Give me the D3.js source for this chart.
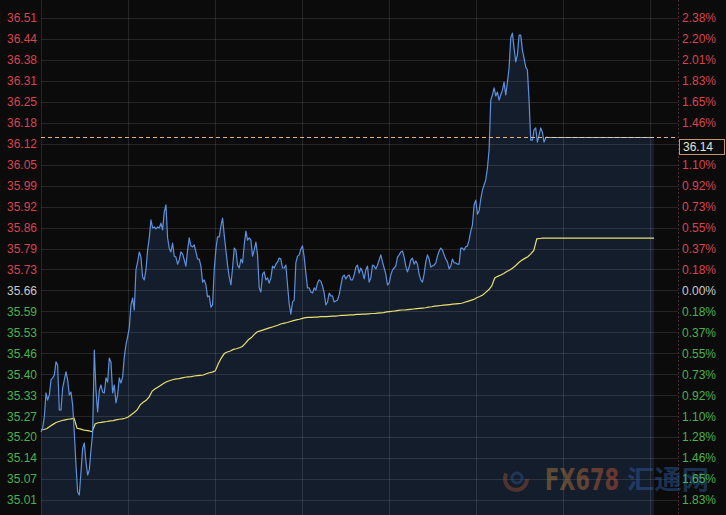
<!DOCTYPE html>
<html><head><meta charset="utf-8">
<script src="https://cdn.jsdelivr.net/npm/d3@7"></script>
<style>html,body{margin:0;padding:0;background:#0b0b0b;overflow:hidden}svg{display:block}</style>
</head><body><svg id="c" width="726" height="515"></svg>
<script>
// ---- data ----
const prevClose = 35.66;
const priceStep = 0.0654;
const lastPrice = [36.14];
const tickSteps = [13,12,11,10,9,8,7,6,5,4,3,2,1,0,-1,-2,-3,-4,-5,-6,-7,-8,-9,-10];
const leftTickLabels = ["36.51","36.44","36.38","36.31","36.25","36.18","36.12","36.05","35.99","35.92","35.86","35.79","35.73","35.66","35.59","35.53","35.46","35.40","35.33","35.27","35.20","35.14","35.07","35.01"];
const rightTickLabels = ["2.38%","2.20%","2.01%","1.83%","1.65%","1.46%","1.28%","1.10%","0.92%","0.73%","0.55%","0.37%","0.18%","0.00%","0.18%","0.37%","0.55%","0.73%","0.92%","1.10%","1.28%","1.46%","1.65%","1.83%"];
// price series: fine time slots over the session
const sessionLength = 368;
const gridSlots = [0,52.2,104.4,156.6,208.8,261,313.2,365.4];
const closes = [35.218,35.231,35.265,35.340,35.318,35.334,35.381,35.387,35.396,35.437,
35.427,35.287,35.287,35.356,35.381,35.406,35.381,35.334,35.343,35.303,
35.215,35.115,35.031,35.022,35.094,35.168,35.184,35.125,35.084,35.100,
35.162,35.215,35.474,35.349,35.281,35.349,35.365,35.343,35.340,35.387,
35.374,35.449,35.437,35.340,35.365,35.309,35.334,35.387,35.371,35.390,
35.452,35.490,35.515,35.543,35.615,35.636,35.599,35.724,35.749,35.780,
35.764,35.702,35.693,35.724,35.786,35.824,35.880,35.855,35.858,35.852,
35.858,35.855,35.870,35.849,35.905,35.927,35.824,35.792,35.780,35.808,
35.767,35.764,35.742,35.755,35.780,35.774,35.755,35.736,35.786,35.824,
35.799,35.796,35.802,35.780,35.758,35.758,35.736,35.686,35.693,35.677,
35.640,35.643,35.608,35.615,35.724,35.789,35.827,35.827,35.861,35.886,
35.833,35.786,35.739,35.702,35.677,35.730,35.792,35.786,35.739,35.730,
35.758,35.746,35.802,35.845,35.817,35.824,35.817,35.767,35.786,35.811,
35.771,35.668,35.655,35.711,35.718,35.693,35.699,35.683,35.699,35.736,
35.730,35.742,35.749,35.761,35.758,35.730,35.730,35.739,35.677,35.618,
35.586,35.624,35.630,35.746,35.767,35.771,35.789,35.799,35.764,35.714,
35.668,35.668,35.655,35.652,35.668,35.661,35.683,35.693,35.689,35.674,
35.652,35.615,35.624,35.652,35.643,35.643,35.624,35.627,35.630,35.646,
35.674,35.702,35.708,35.696,35.705,35.708,35.693,35.693,35.708,35.733,
35.739,35.714,35.730,35.718,35.696,35.724,35.736,35.686,35.699,35.739,
35.736,35.727,35.739,35.755,35.771,35.749,35.730,35.711,35.677,35.683,
35.708,35.724,35.730,35.736,35.764,35.771,35.780,35.783,35.764,35.736,
35.718,35.733,35.755,35.761,35.742,35.752,35.742,35.711,35.693,35.686,
35.711,35.749,35.771,35.758,35.733,35.736,35.739,35.746,35.767,35.783,
35.792,35.786,35.771,35.758,35.749,35.727,35.736,35.758,35.746,35.746,
35.742,35.742,35.792,35.792,35.786,35.796,35.799,35.817,35.845,35.864,
35.927,35.942,35.898,35.908,35.945,35.973,35.989,36.005,36.042,36.098,
36.254,36.270,36.292,36.267,36.279,36.254,36.270,36.285,36.310,36.270,
36.310,36.354,36.448,36.463,36.416,36.373,36.395,36.457,36.457,36.410,
36.385,36.357,36.348,36.254,36.129,36.129,36.161,36.167,36.123,36.145,
36.167,36.154,36.123,36.136,36.140];
// average price series: sampled on a coarser grid of the same session
const avgSessionLength = 204;
const avgPrice = [35.225,35.226,35.229,35.236,35.242,35.248,35.251,35.254,35.256,35.258,
35.259,35.261,35.230,35.228,35.225,35.223,35.222,35.219,35.243,35.247,
35.248,35.250,35.251,35.253,35.254,35.256,35.258,35.259,35.261,35.265,
35.272,35.279,35.287,35.303,35.311,35.317,35.328,35.346,35.353,35.359,
35.365,35.371,35.376,35.379,35.382,35.384,35.385,35.387,35.389,35.390,
35.391,35.393,35.394,35.395,35.396,35.400,35.403,35.405,35.409,35.431,
35.449,35.463,35.468,35.471,35.476,35.478,35.481,35.485,35.495,35.506,
35.513,35.523,35.531,35.534,35.537,35.540,35.543,35.546,35.549,35.552,
35.556,35.558,35.560,35.563,35.566,35.568,35.570,35.573,35.575,35.576,
35.576,35.577,35.577,35.578,35.578,35.578,35.579,35.580,35.580,35.581,
35.582,35.582,35.583,35.584,35.584,35.585,35.585,35.586,35.586,35.587,
35.588,35.588,35.589,35.590,35.591,35.593,35.594,35.595,35.596,35.598,
35.599,35.599,35.600,35.601,35.602,35.603,35.604,35.605,35.606,35.608,
35.609,35.611,35.612,35.613,35.614,35.615,35.616,35.617,35.618,35.619,
35.620,35.623,35.626,35.629,35.632,35.637,35.641,35.646,35.654,35.662,
35.674,35.699,35.704,35.708,35.713,35.719,35.724,35.730,35.738,35.747,
35.754,35.760,35.765,35.774,35.785,35.821,35.822,35.823,35.823,35.823];

// ---- layout ----
const W = 726, H = 515;
const plotL = 41, plotR = 678;
const svg = d3.select("#c");
const defs = svg.append("defs");
svg.append("rect").attr("width", W).attr("height", H).attr("fill", "#0b0b0b");

const x = d3.scaleLinear().domain([0, sessionLength]).range([41, 654]);
const xAvg = d3.scaleLinear().domain([0, avgSessionLength]).range([41, 654]);
const y = d3.scaleLinear()
  .domain([prevClose - 10 * priceStep, prevClose + 13 * priceStep])
  .range([500, 18]);
const tickVals = tickSteps.map(s => prevClose + s * priceStep);
const colorFor = s => s > 0 ? "#d9434f" : (s === 0 ? "#c9c9c9" : "#4cb050");
const ly = Math.round(y(lastPrice[0])) + 0.5;

// area fill (extends to session end at last price)
const lastIdx = closes.length - 1;
const areaPts = closes.map((v, i) => [i, v]).concat([[sessionLength, lastPrice[0]]]);
svg.append("path")
  .attr("d", d3.area().x(d => x(d[0])).y0(H).y1(d => y(d[1]))(areaPts))
  .attr("fill", "#141d2c");

// grid
const grid = svg.append("g").attr("stroke", "rgba(255,255,255,0.11)").attr("stroke-width", 1);
grid.selectAll("line.h").data(tickVals).join("line")
  .attr("x1", plotL).attr("x2", plotR)
  .attr("y1", d => Math.round(y(d)) + 0.5).attr("y2", d => Math.round(y(d)) + 0.5);
grid.selectAll("line.v").data(gridSlots).join("line")
  .attr("x1", d => Math.round(x(d)) + 0.5).attr("x2", d => Math.round(x(d)) + 0.5)
  .attr("y1", 0).attr("y2", H);
svg.append("line").attr("x1", plotR + 0.5).attr("x2", plotR + 0.5).attr("y1", 0).attr("y2", H)
  .attr("stroke", "#4a2a30").attr("stroke-dasharray", "2,2");

// watermark
const grad = defs.append("linearGradient").attr("id", "fxg").attr("x1", "0").attr("x2", "1").attr("y1", "0").attr("y2", "0");
grad.append("stop").attr("offset", "0").attr("stop-color", "#a47c40");
grad.append("stop").attr("offset", "0.5").attr("stop-color", "#ab6a3a");
grad.append("stop").attr("offset", "1").attr("stop-color", "#c04a30");
const wm = svg.append("g").attr("opacity", 0.5);
wm.append("circle").attr("cx", 516).attr("cy", 479).attr("r", 11).attr("fill", "none")
  .attr("stroke", "#8a4a30").attr("stroke-width", 4).attr("stroke-dasharray", "40,30");
wm.append("circle").attr("cx", 517).attr("cy", 478).attr("r", 5).attr("fill", "none")
  .attr("stroke", "#2b4f86").attr("stroke-width", 3);
wm.append("text").attr("x", 545).attr("y", 490).attr("fill", "url(#fxg)")
  .attr("font-family", "DejaVu Sans Condensed, DejaVu Sans").attr("font-weight", "bold")
  .attr("font-size", 30).attr("textLength", 74).attr("lengthAdjust", "spacingAndGlyphs").text("FX678");
wm.append("text").attr("x", 627).attr("y", 489).attr("fill", "#2c5896")
  .attr("font-family", "Noto Sans CJK SC").attr("font-weight", "bold")
  .attr("font-size", 26).attr("textLength", 82).attr("lengthAdjust", "spacingAndGlyphs").text("汇通网");

// average line
const avgPts = avgPrice.map((v, i) => [i, v]).concat([[avgSessionLength, avgPrice[avgPrice.length - 1]]]);
svg.append("path")
  .attr("d", d3.line().x(d => xAvg(d[0])).y(d => y(d[1]))(avgPts))
  .attr("fill", "none").attr("stroke", "#e6e070").attr("stroke-width", 1.2);

// price line
svg.append("path")
  .attr("d", d3.line().x((d, i) => x(i)).y(d => y(d))(closes))
  .attr("fill", "none").attr("stroke", "#5e90dc").attr("stroke-width", 1.2).attr("stroke-linejoin", "round");

// last price line: dashed across, solid pale over the forward-filled part
svg.append("line").attr("x1", plotL).attr("x2", plotR).attr("y1", ly).attr("y2", ly)
  .attr("stroke", "#e6b27a").attr("stroke-dasharray", "4,3").attr("stroke-width", 1);
svg.append("line").attr("x1", x(lastIdx)).attr("x2", x(sessionLength)).attr("y1", ly).attr("y2", ly)
  .attr("stroke", "#d8d0c4").attr("stroke-width", 1).attr("opacity", 0.8);

// axes
const leftAxis = d3.axisLeft(y).tickValues(tickVals).tickFormat((d, i) => leftTickLabels[i]).tickSize(0).tickPadding(4);
const gL = svg.append("g").attr("transform", `translate(${plotL},0)`).call(leftAxis);
const rightAxis = d3.axisRight(y).tickValues(tickVals).tickFormat((d, i) => rightTickLabels[i]).tickSize(0).tickPadding(4);
const gR = svg.append("g").attr("transform", `translate(${plotR},0)`).call(rightAxis);
[gL, gR].forEach(g => {
  g.select(".domain").remove();
  g.selectAll("text").attr("font-family", "Liberation Sans, Arial, sans-serif").attr("font-size", 12)
    .attr("fill", (d, i) => colorFor(tickSteps[i]));
});
// the right-hand label covered by the last-price tag is not shown
gR.selectAll(".tick").filter(d => Math.abs(y(d) - (ly + 9.5)) < 8).remove();

// last price tag
const tag = svg.append("g");
tag.append("rect").attr("x", 679.5).attr("y", ly + 2).attr("width", 45).attr("height", 15)
  .attr("fill", "#0b0b0b").attr("stroke", "#c8956a");
tag.append("text").attr("x", 683).attr("y", ly + 9.5).attr("dy", "0.35em")
  .attr("font-family", "Liberation Sans, Arial, sans-serif").attr("font-size", 12)
  .attr("fill", "#e8e2da").text(lastPrice[0].toFixed(2));
</script></body></html>
